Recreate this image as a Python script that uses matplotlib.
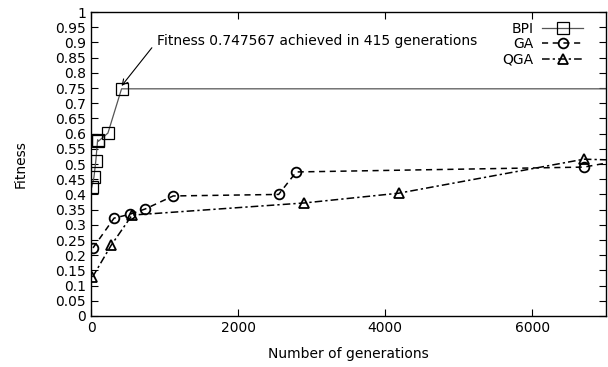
import numpy as np
import matplotlib.pyplot as plt
from matplotlib.ticker import FuncFormatter

# data
bpi_x = [10, 40, 65, 90, 100, 230, 415, 7000]
bpi_y = [0.424, 0.457, 0.51, 0.58, 0.575, 0.602, 0.747567, 0.747567]

ga_x = [27, 313, 531, 735, 1117, 2550, 2790, 6700, 7000]
ga_y = [0.224, 0.322, 0.335, 0.352, 0.395, 0.40, 0.474, 0.49, 0.503]

qga_x = [20, 272, 558, 2900, 4180, 6700, 7000]
qga_y = [0.128, 0.232, 0.332, 0.372, 0.404, 0.516, 0.514]

plt.rcParams['font.family'] = 'DejaVu Sans'
fig = plt.figure(figsize=(6.08, 3.67), dpi=100)
ax = fig.add_axes([0.1497, 0.139, 0.847, 0.828])

ax.plot(bpi_x, bpi_y, color='#555555', lw=0.9, marker='s', ms=8,
        mfc='none', mec='black', mew=0.9, markevery=list(range(7)), label='BPI')
ax.plot(ga_x, ga_y, color='black', lw=1.1, ls=(0, (4, 3)), marker='o', ms=7,
        mfc='none', mec='black', mew=1.3, markevery=list(range(8)), label='GA')
ax.plot(qga_x, qga_y, color='black', lw=1.1, ls=(0, (5, 2, 1.5, 2)), marker='^', ms=7,
        mfc='none', mec='black', mew=1.3, markevery=list(range(6)), label='QGA')

ax.annotate('Fitness 0.747567 achieved in 415 generations',
            xy=(415, 0.757), xytext=(900, 0.905), fontsize=10,
            va='center', ha='left',
            arrowprops=dict(arrowstyle='->', color='black', lw=0.8,
                            shrinkA=3, shrinkB=0, relpos=(0, 0.5)))

ax.set_xlim(0, 7000)
ax.set_ylim(0, 1)
ax.set_xticks([0, 2000, 4000, 6000])
ax.set_yticks(np.arange(0, 1.0001, 0.05))
ax.yaxis.set_major_formatter(FuncFormatter(lambda v, p: '%g' % round(v, 2)))
ax.tick_params(direction='in', top=True, right=True, labelsize=10, length=5, width=0.8)
for s in ax.spines.values():
    s.set_linewidth(1.0)

ax.set_xlabel('Number of generations', fontsize=10, labelpad=9)
ax.set_ylabel('Fitness', fontsize=10, labelpad=20)

ax.legend(loc='upper right', bbox_to_anchor=(0.975, 1.0), frameon=False,
          markerfirst=False, fontsize=10, handlelength=3.0, labelspacing=0.1,
          borderaxespad=0.3, handletextpad=0.6)

fig.savefig('out.png', dpi=100)
